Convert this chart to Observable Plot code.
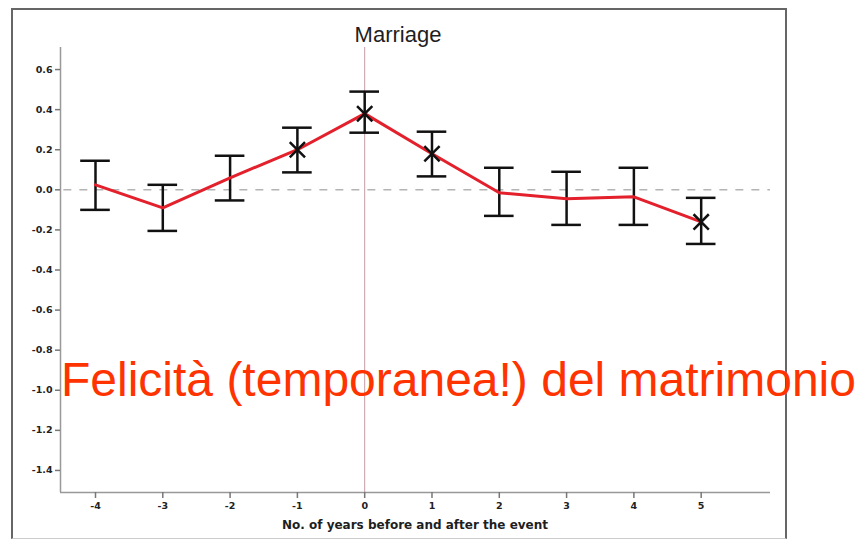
<!DOCTYPE html>
<html>
<head>
<meta charset="utf-8">
<script src="https://cdn.jsdelivr.net/npm/d3@7"></script>
<script src="https://cdn.jsdelivr.net/npm/@observablehq/plot@0.6"></script>
<style>
  html, body { margin: 0; padding: 0; background: #fff; }
  #wrap { position: relative; width: 857px; height: 540px; overflow: hidden; font-family: "Liberation Sans", Arial, sans-serif; }
  #border { position: absolute; left: 11px; top: 8px; width: 776px; height: 531px; border: 2px solid #666; border-bottom: 1px solid #ccc; box-sizing: border-box; }
  #title { position: absolute; left: 398px; top: 22px; transform: translateX(-50%); font-size: 22px; color: #1e1e1e; white-space: nowrap; }
  #xlabel { position: absolute; left: 415px; top: 518px; transform: translateX(-50%); font-family: "DejaVu Sans", Verdana, sans-serif; font-size: 12px; font-weight: bold; color: #1e1e1e; white-space: nowrap; }
  #note { position: absolute; left: 61px; top: 352px; font-size: 48px; color: #ff3300; white-space: nowrap; }
  #chart { position: absolute; left: 0; top: 0; }
</style>
</head>
<body>
<div id="wrap">
  <div id="chart"></div>
  <div id="border"></div>
  <div id="title">Marriage</div>
  <div id="xlabel">No. of years before and after the event</div>
  <div id="note">Felicità (temporanea!) del matrimonio</div>
</div>
<script>
const years = [-4, -3, -2, -1, 0, 1, 2, 3, 4, 5];
const means = [0.025, -0.09, 0.06, 0.20, 0.38, 0.18, -0.015, -0.045, -0.035, -0.16];
const upper = [0.145, 0.025, 0.17, 0.31, 0.49, 0.29, 0.11, 0.09, 0.11, -0.04];
const lower = [-0.10, -0.205, -0.053, 0.087, 0.285, 0.067, -0.13, -0.175, -0.175, -0.27];
const significant = [false, false, false, true, true, true, false, false, false, true];
const yTicks = [0.6, 0.4, 0.2, 0.0, -0.2, -0.4, -0.6, -0.8, -1.0, -1.2, -1.4];
const xTicks = [-4, -3, -2, -1, 0, 1, 2, 3, 4, 5];
const xDomain = [-4.52, 6.03];
const yDomain = [-1.51, 0.71];
const eventYear = 0;
const capHalf = 0.22;

const data = years.map((x, i) => ({x, mean: means[i], hi: upper[i], lo: lower[i], sig: significant[i]}));

const tickFont = "'DejaVu Sans', Verdana, sans-serif";

const chart = Plot.plot({
  width: 857,
  height: 540,
  marginLeft: 60,
  marginRight: 87,
  marginTop: 47,
  marginBottom: 48,
  style: {fontFamily: tickFont, background: "transparent"},
  x: {domain: xDomain, label: null},
  y: {domain: yDomain, label: null},
  marks: [
    Plot.ruleY([0], {stroke: "#b4b4b4", strokeWidth: 1.5, strokeDasharray: "8,8", x1: -4.47, x2: xDomain[1]}),
    Plot.ruleX([eventYear], {stroke: "#c49aa4", strokeWidth: 1}),
    Plot.ruleX([xDomain[0]], {stroke: "#999", strokeWidth: 1.5}),
    Plot.ruleY([yDomain[0]], {stroke: "#999", strokeWidth: 1.5}),
    Plot.axisX({ticks: xTicks, tickFormat: d => String(d), tickSize: 6, tickPadding: 4, fontSize: 9.5, fontWeight: "bold", fill: "#222", stroke: "#777", strokeWidth: 1.5}),
    Plot.axisY({ticks: yTicks, tickFormat: d => d.toFixed(1), tickSize: 5, tickPadding: 3, fontSize: 9.5, fontWeight: "bold", fill: "#222", stroke: "#777", strokeWidth: 1.5}),
    Plot.ruleX(data, {x: "x", y1: "lo", y2: "hi", stroke: "#111", strokeWidth: 2.5}),
    Plot.ruleY(data, {y: "hi", x1: d => d.x - capHalf, x2: d => d.x + capHalf, stroke: "#111", strokeWidth: 2.5}),
    Plot.ruleY(data, {y: "lo", x1: d => d.x - capHalf, x2: d => d.x + capHalf, stroke: "#111", strokeWidth: 2.5}),
    Plot.line(data, {x: "x", y: "mean", stroke: "#e3202b", strokeWidth: 3}),
    Plot.dot(data.filter(d => d.sig), {x: "x", y: "mean", symbol: "times", r: 7, stroke: "#111", strokeWidth: 2.5})
  ]
});
document.getElementById("chart").appendChild(chart);
</script>
</body>
</html>
